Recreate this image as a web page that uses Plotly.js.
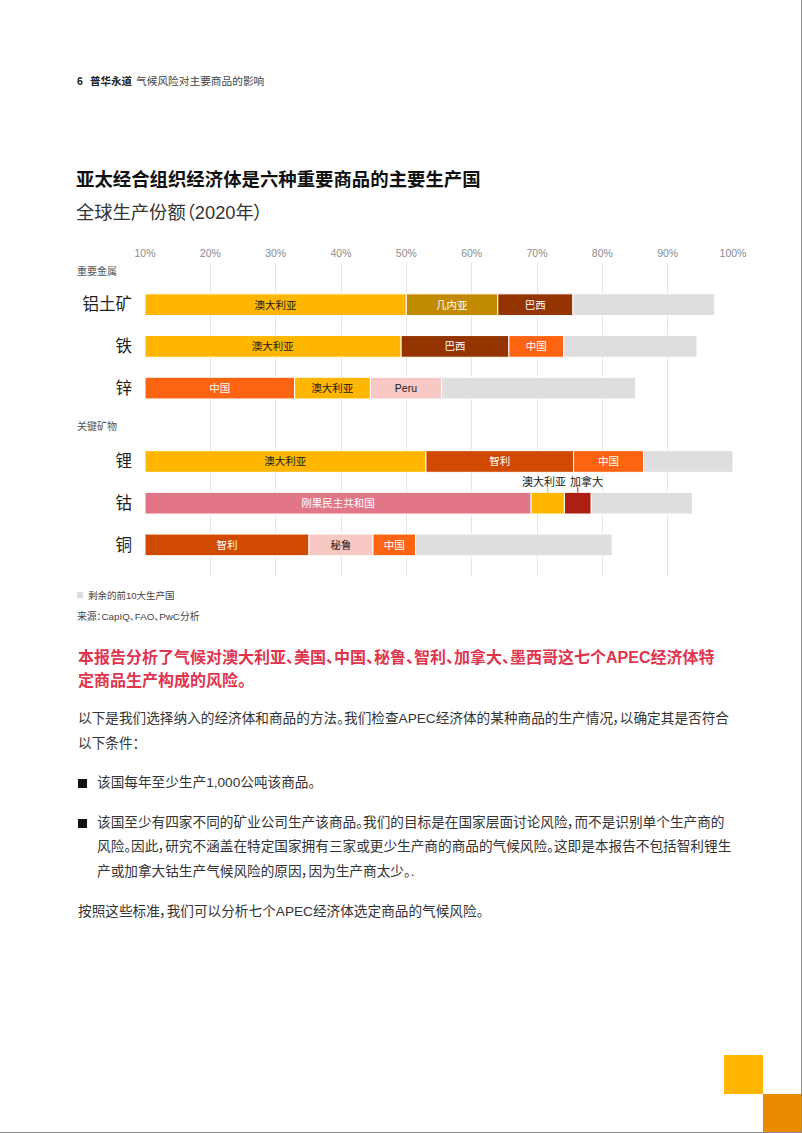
<!DOCTYPE html>
<html>
<head>
<meta charset="utf-8">
<script src="https://cdn.plot.ly/plotly-3.0.1.min.js"></script>
<style>
  body { margin: 0; background: #fff; }
  #page { position: relative; width: 802px; height: 1133px; overflow: hidden; background: #fff;
          font-family: "Liberation Sans", "Noto Sans CJK SC", sans-serif; font-feature-settings: "palt"; }
  .abs { position: absolute; white-space: nowrap; }
  #chart { position: absolute; left: 0; top: 0; width: 802px; height: 1133px; }
  .bul { position: absolute; width: 9px; height: 9px; background: #111; }
</style>
</head>
<body>
<div id="page">
  <div class="abs" style="left:77px;top:74px;line-height:14px;font-size:10.5px;color:#222;font-weight:bold;">6</div>
  <div class="abs" style="left:90px;top:74px;line-height:14px;font-size:10.5px;color:#222;font-weight:bold;">普华永道</div>
  <div class="abs" style="left:136px;top:74px;line-height:14px;font-size:10.7px;color:#444;">气候风险对主要商品的影响</div>

  <div class="abs" style="left:76px;top:168px;line-height:24px;font-size:18.4px;color:#111;font-weight:bold;">亚太经合组织经济体是六种重要商品的主要生产国</div>
  <div class="abs" style="left:76px;top:200.5px;line-height:24px;font-size:18.3px;color:#333;">全球生产份额（2020年）</div>

  <div class="abs" style="left:78px;top:646px;line-height:23px;font-size:16px;color:#E0354F;font-weight:bold;">本报告分析了气候对澳大利亚、美国、中国、秘鲁、智利、加拿大、墨西哥这七个APEC经济体特<br>定商品生产构成的风险。</div>

  <div class="abs" style="left:78px;top:706px;line-height:25px;font-size:13.65px;color:#333;">以下是我们选择纳入的经济体和商品的方法。我们检查APEC经济体的某种商品的生产情况，以确定其是否符合<br>以下条件：</div>

  <div class="bul" style="left:78px;top:779px;"></div>
  <div class="abs" style="left:97px;top:771px;line-height:24.5px;font-size:13.65px;color:#333;">该国每年至少生产1,000公吨该商品。</div>

  <div class="bul" style="left:78px;top:819px;"></div>
  <div class="abs" style="left:97px;top:811px;line-height:24.4px;font-size:13.65px;color:#333;">该国至少有四家不同的矿业公司生产该商品。我们的目标是在国家层面讨论风险，而不是识别单个生产商的<br>风险。因此，研究不涵盖在特定国家拥有三家或更少生产商的商品的气候风险。这即是本报告不包括智利锂生<br>产或加拿大钴生产气候风险的原因，因为生产商太少。.</div>

  <div class="abs" style="left:78px;top:899.5px;line-height:24.5px;font-size:13.65px;color:#333;">按照这些标准，我们可以分析七个APEC经济体选定商品的气候风险。</div>

  <div style="position:absolute;left:724px;top:1055px;width:38.5px;height:38.5px;background:#FFB600;"></div>
  <div style="position:absolute;left:762.5px;top:1093.5px;width:40px;height:40px;background:#EB8C00;"></div>
  <div style="position:absolute;left:801px;top:0;width:1px;height:1133px;background:#8a8a8a;"></div>
  <div style="position:absolute;left:0;top:1132px;width:802px;height:1px;background:#8a8a8a;"></div>

  <div id="chart"></div>
</div>
<script>
// ---------------- data ----------------
const commodities = ['铝土矿', '铁', '锌', '锂', '钴', '铜'];
const groupOf     = ['重要金属', '重要金属', '重要金属', '关键矿物', '关键矿物', '关键矿物'];
const groups      = ['重要金属', '关键矿物'];

const seg1Country = ['澳大利亚', '澳大利亚', '中国', '澳大利亚', '刚果民主共和国', '智利'];
const seg1Share   = [40.0, 39.2, 22.9, 43.0, 59.1, 25.1];
const seg2Country = ['几内亚', '巴西', '澳大利亚', '智利', '澳大利亚', '秘鲁'];
const seg2Share   = [14.0, 16.5, 11.6, 22.6, 5.1, 9.8];
const seg3Country = ['巴西', '中国', 'Peru', '中国', '加拿大', '中国'];
const seg3Share   = [11.5, 8.4, 10.9, 10.7, 4.1, 6.5];
const restLabel   = '剩余的前10大生产国';
const restShare   = [21.7, 20.4, 29.7, 13.7, 15.5, 30.1];

const axisStart  = 10;
const tickValues = [10, 20, 30, 40, 50, 60, 70, 80, 90, 100];
const tickLabels = ['10%', '20%', '30%', '40%', '50%', '60%', '70%', '80%', '90%', '100%'];

const calloutCommodity = '钴';
const sourceText = '来源：CapIQ、FAO、PwC分析';

// ---------------- style ----------------
const colorOf = {
  '澳大利亚': '#FFB600', '几内亚': '#C28A00', '巴西': '#933401', '中国': '#FD6412',
  'Peru': '#F7C8C4', '秘鲁': '#F7C8C4', '智利': '#D04A02', '刚果民主共和国': '#E27588',
  '加拿大': '#AD1F12'
};
colorOf[restLabel] = '#DEDEDE';
const darkText = { '澳大利亚': 1, 'Peru': 1, '秘鲁': 1 };
const FONT = '"Liberation Sans", "Noto Sans CJK SC", sans-serif';
const CJK = '"Noto Sans CJK SC", sans-serif';

// plot area in pixels
const L = 145, R = 69, T = 263, B = 557, W = 802, H = 1133;
const PW = W - L - R, PH = H - T - B;
const fx = px => (px - L) / PW;
const fy = py => (H - B - py) / PH;
const split = fy(424.5);

const restCountry = commodities.map(() => restLabel);
const slots = [
  { c: seg1Country, v: seg1Share, label: true },
  { c: seg2Country, v: seg2Share, label: true },
  { c: seg3Country, v: seg3Share, label: true },
  { c: restCountry, v: restShare, label: false }
];
// cumulative bases
const bases = slots.map(() => []);
commodities.forEach((_, i) => {
  let acc = axisStart;
  slots.forEach((s, k) => { bases[k][i] = acc; acc += s.v[i]; });
});

const axisOf = { '重要金属': 'y', '关键矿物': 'y2' };
const traces = [];
groups.forEach(g => {
  const idx = commodities.map((_, i) => i).filter(i => groupOf[i] === g);
  slots.forEach((s, k) => {
    traces.push({
      type: 'bar', orientation: 'h', xaxis: 'x', yaxis: axisOf[g],
      y: idx.map(i => commodities[i]),
      x: idx.map(i => s.v[i]),
      base: idx.map(i => bases[k][i]),
      width: 0.52,
      marker: { color: idx.map(i => colorOf[s.c[i]]), line: { color: '#ffffff', width: 1 } },
      text: idx.map(i => (s.label && !(commodities[i] === calloutCommodity && k > 0)) ? s.c[i] : ''),
      textposition: 'inside', insidetextanchor: 'middle', textangle: 0, constraintext: 'none',
      textfont: { family: FONT, size: 10.5, color: idx.map(i => darkText[s.c[i]] ? '#1a1a1a' : '#ffffff') },
      hoverinfo: 'skip', showlegend: false
    });
  });
});

// callouts for small cobalt segments
const annotations = [];
const shapes = [];
const ci = commodities.indexOf(calloutCommodity);
const ciInGroup = commodities.filter((c, i) => groupOf[i] === groupOf[ci]).indexOf(calloutCommodity);
const calloutShift = [-4, 9];
[1, 2].forEach((k, j) => {
  const center = bases[k][ci] + slots[k].v[ci] / 2;
  annotations.push({
    xref: 'x', yref: axisOf[groupOf[ci]], x: center, y: calloutCommodity,
    text: slots[k].c[ci], showarrow: false, yshift: 21.5, xshift: calloutShift[j],
    font: { family: FONT, size: 11, color: '#1a1a1a' }, xanchor: 'center', yanchor: 'middle'
  });
  shapes.push({
    type: 'line', xref: 'x', yref: axisOf[groupOf[ci]], x0: center, x1: center,
    ysizemode: 'pixel', yanchor: ciInGroup, y0: 10.5, y1: 16,
    line: { color: colorOf[slots[k].c[ci]], width: 1 }
  });
});

// group labels
const groupY = { '重要金属': 270, '关键矿物': 425 };
groups.forEach(g => annotations.push({
  xref: 'paper', yref: 'paper', x: fx(77), xshift: -2, y: fy(groupY[g]), xanchor: 'left', yanchor: 'middle', align: 'left',
  text: g, showarrow: false, font: { family: CJK, size: 10, color: '#555' }
}));

// legend + source
shapes.push({ type: 'rect', xref: 'paper', yref: 'paper', x0: fx(77), x1: fx(83), y0: fy(598), y1: fy(592),
  fillcolor: colorOf[restLabel], line: { width: 0 } });
annotations.push({ xref: 'paper', yref: 'paper', x: fx(88), xshift: -2, y: fy(595.3), xanchor: 'left', yanchor: 'middle', align: 'left',
  text: restLabel, showarrow: false, font: { family: FONT, size: 9.5, color: '#444' } });
annotations.push({ xref: 'paper', yref: 'paper', x: fx(77), xshift: -2, y: fy(615.7), xanchor: 'left', yanchor: 'middle', align: 'left',
  text: sourceText, showarrow: false, font: { family: FONT, size: 9.8, color: '#444' } });

const topCats = commodities.filter((c, i) => groupOf[i] === groups[0]);
const botCats = commodities.filter((c, i) => groupOf[i] === groups[1]);
const yCommon = {
  type: 'category', anchor: 'x', showgrid: false, zeroline: false, showline: false, ticks: '',
  tickfont: { family: CJK, size: 16.5, color: '#222' }, ticklabelstandoff: 12, fixedrange: true
};

const layout = {
  width: W, height: H,
  margin: { l: L, r: R, t: T, b: B, pad: 0 },
  paper_bgcolor: 'rgba(0,0,0,0)', plot_bgcolor: 'rgba(0,0,0,0)',
  barmode: 'overlay', showlegend: false,
  xaxis: {
    range: [axisStart, 100], side: 'top', anchor: 'y',
    tickmode: 'array', tickvals: tickValues, ticktext: tickLabels,
    tickfont: { family: '"Liberation Sans", sans-serif', size: 10.5, color: '#8c8c8c' },
    showgrid: true, gridcolor: '#e6e6e6', gridwidth: 1, zeroline: false, showline: false,
    ticks: '', ticklabelstandoff: 3,
    fixedrange: true
  },
  yaxis: Object.assign({}, yCommon, { domain: [split, 1], categoryorder: 'array', categoryarray: topCats, range: [2.873, -1] }),
  yaxis2: Object.assign({}, yCommon, { domain: [0, split], categoryorder: 'array', categoryarray: botCats, range: [2.746, -0.887] }),
  annotations: annotations,
  shapes: shapes
};

Plotly.newPlot('chart', traces, layout, { staticPlot: true, displayModeBar: false });
</script>
</body>
</html>
